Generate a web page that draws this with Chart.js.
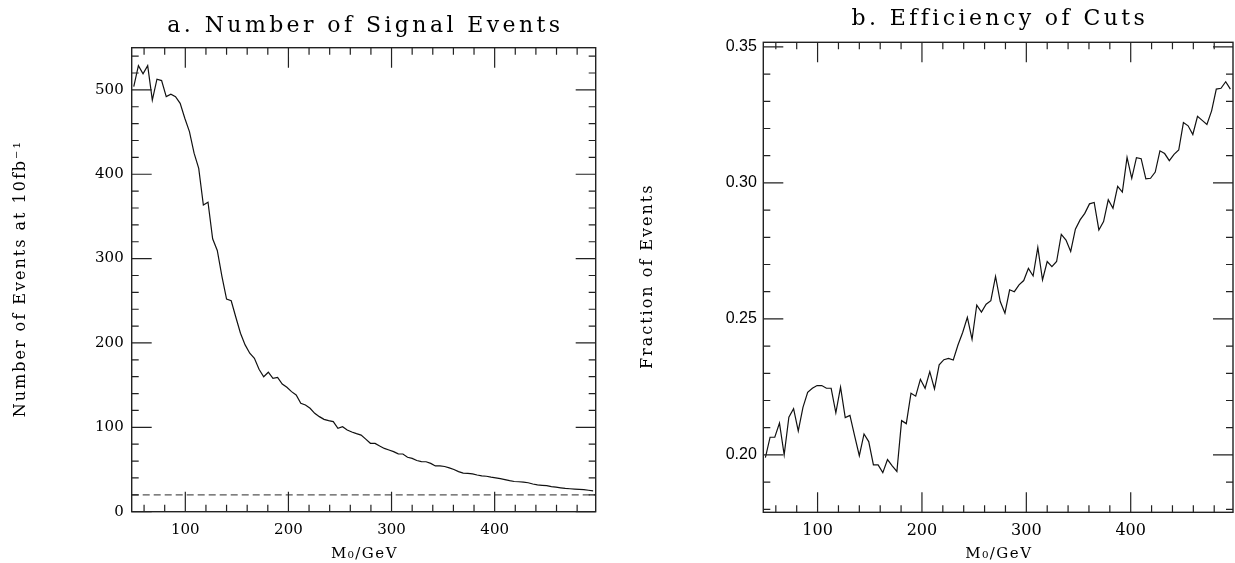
<!DOCTYPE html>
<html>
<head>
<meta charset="utf-8">
<style>
  html, body { margin: 0; padding: 0; background: #fff; }
  #page { position: relative; width: 1235px; height: 563px; overflow: hidden; }
  canvas { position: absolute; top: 0; }
  #signalChart { left: 0; }
  #efficiencyChart { left: 620px; }
</style>
<script src="https://cdn.jsdelivr.net/npm/chart.js@4.4.1/dist/chart.umd.min.js"></script>
</head>
<body>
<div id="page">
  <canvas id="signalChart" width="620" height="563"></canvas>
  <canvas id="efficiencyChart" width="615" height="563"></canvas>
</div>
<script>
// M0 values (GeV) shared by both panels
const massValues = [
  50, 54.5, 59, 63.5, 68, 72.5, 77, 81.5, 86, 90.5,
  95, 99.5, 104, 108.5, 113, 117.5, 122, 126.5, 131, 135.5,
  140, 144.5, 149, 153.5, 158, 162.5, 167, 171.5, 176, 180.5,
  185, 189.5, 194, 198.5, 203, 207.5, 212, 216.5, 221, 225.5,
  230, 234.5, 239, 243.5, 248, 252.5, 257, 261.5, 266, 270.5,
  275, 279.5, 284, 288.5, 293, 297.5, 302, 306.5, 311, 315.5,
  320, 324.5, 329, 333.5, 338, 342.5, 347, 351.5, 356, 360.5,
  365, 369.5, 374, 378.5, 383, 387.5, 392, 396.5, 401, 405.5,
  410, 414.5, 419, 423.5, 428, 432.5, 437, 441.5, 446, 450.5,
  455, 459.5, 464, 468.5, 473, 477.5, 482, 486.5, 491, 495.5
];

// a. number of signal events at 10 fb^-1
const signalEvents = [
  504, 528.8, 519, 528.8, 488, 512.7, 511, 492, 494.8, 492,
  484, 466.4, 450.6, 425, 407, 363.6, 366.8, 323.5, 309.7, 279,
  252, 250, 230.5, 211.5, 197.7, 187.8, 181.8, 168.8, 160, 165.3,
  158.1, 159.3, 151.4, 147.5, 142.3, 138.4, 128.5, 126.5, 122.6, 116.6,
  112.7, 109.5, 108, 106.8, 98.9, 100.8, 96.9, 94.5, 92.5, 90.8,
  86, 81.1, 81, 77.8, 75, 73.2, 71.2, 68.6, 68.4, 64.5,
  63.2, 60.7, 59.4, 59.2, 57.3, 54.2, 54.2, 53.6, 52, 50,
  47.5, 45.8, 45.5, 44.8, 43.5, 42.5, 42, 41, 40.2, 39.2,
  38, 36.8, 35.8, 35.5, 35.1, 34.3, 32.8, 31.7, 31.3, 30.9,
  29.8, 29.1, 28.3, 27.6, 27.2, 26.8, 26.5, 26.2, 25.4, 24.6
];

// dashed reference level
const thresholdMass = [48, 498];
const thresholdEvents = [20, 20];

// b. fraction of events passing the cuts
const cutEfficiency = [
  0.199, 0.2065, 0.2065, 0.2117, 0.200, 0.2139, 0.2170, 0.2088, 0.2175, 0.2230,
  0.2245, 0.2255, 0.2255, 0.2245, 0.2245, 0.2155, 0.2249, 0.2137, 0.2145, 0.207,
  0.1997, 0.2077, 0.2049, 0.1963, 0.1963, 0.1935, 0.1983, 0.196, 0.1939, 0.2126,
  0.2115, 0.2227, 0.2216, 0.2278, 0.2245, 0.2306, 0.2243, 0.2331, 0.2350, 0.2355,
  0.2349, 0.2404, 0.2450, 0.2506, 0.2425, 0.2551, 0.2525, 0.2554, 0.2567, 0.2656,
  0.2564, 0.2521, 0.2607, 0.2600, 0.2625, 0.2641, 0.2686, 0.2658, 0.2763, 0.2643,
  0.2711, 0.2692, 0.2711, 0.2811, 0.2790, 0.2748, 0.2830, 0.2864, 0.2888, 0.2923,
  0.2928, 0.2827, 0.2858, 0.2938, 0.2907, 0.2987, 0.2966, 0.3094, 0.3017, 0.3093,
  0.3089, 0.3015, 0.3017, 0.3040, 0.3118, 0.3108, 0.3082, 0.3105, 0.3121, 0.3222,
  0.3210, 0.3178, 0.3245, 0.3230, 0.3215, 0.3265, 0.3345, 0.3348, 0.3372, 0.3345
];

// tick values
const massMajorTicks = [100, 200, 300, 400];
const massMinorTicks = [60, 80, 120, 140, 160, 180, 220, 240, 260, 280, 320, 340, 360, 380, 420, 440, 460, 480];
const eventsMajorTicks = [0, 100, 200, 300, 400, 500];
const eventsMinorTicks = [20, 40, 60, 80, 120, 140, 160, 180, 220, 240, 260, 280, 320, 340, 360, 380, 420, 440, 460, 480, 520, 540];
const fractionMajorTicks = [0.20, 0.25, 0.30, 0.35];
const fractionMinorTicks = [0.18, 0.19, 0.21, 0.22, 0.23, 0.24, 0.26, 0.27, 0.28, 0.29, 0.31, 0.32, 0.33, 0.34];

const SERIF = "'DejaVu Serif', serif";
const SANS = "'Liberation Sans', Arial, sans-serif";

Chart.defaults.font.family = SERIF;
Chart.defaults.color = "#000";

function toPoints(xs, ys) {
  return xs.map((x, i) => ({ x, y: ys[i] }));
}

// box with inward ticks on all four sides
const frameTicks = {
  id: "frameTicks",
  afterDatasetsDraw(chart, args, opts) {
    const { ctx, chartArea: a, scales: { x, y } } = chart;
    ctx.save();
    ctx.strokeStyle = "#222";
    ctx.lineWidth = 1.4;
    ctx.strokeRect(a.left, a.top, a.width, a.height);

    ctx.beginPath();
    const xTicks = (list, len) => list.forEach(v => {
      const px = x.getPixelForValue(v);
      ctx.moveTo(px, a.bottom);
      ctx.lineTo(px, a.bottom - len);
      ctx.moveTo(px, a.top);
      ctx.lineTo(px, a.top + len);
    });
    const yTicks = (list, len) => list.forEach(v => {
      const py = y.getPixelForValue(v);
      ctx.moveTo(a.left, py);
      ctx.lineTo(a.left + len, py);
      ctx.moveTo(a.right, py);
      ctx.lineTo(a.right - len, py);
    });
    xTicks(opts.xMajor, 20);
    xTicks(opts.xMinor, 7);
    yTicks(opts.yMajor, 20);
    yTicks(opts.yMinor, 7);
    ctx.lineWidth = 1.2;
    ctx.stroke();
    ctx.restore();
  }
};

// titles and axis captions, letter spaced like the original
const panelText = {
  id: "panelText",
  afterDraw(chart, args, opts) {
    const { ctx, chartArea: a } = chart;
    const cx = (a.left + a.right) / 2;
    const cy = (a.top + a.bottom) / 2;
    ctx.save();
    ctx.fillStyle = "#000";
    ctx.textAlign = "center";

    ctx.font = `22px ${SERIF}`;
    ctx.letterSpacing = "3.4px";
    ctx.textBaseline = "alphabetic";
    ctx.fillText(opts.title, cx + 1.7, opts.titleBaseline);

    ctx.font = `15px ${SERIF}`;
    ctx.letterSpacing = "1.5px";
    ctx.fillText("M\u2080/GeV", cx + 0.75, opts.xLabelBaseline);

    ctx.font = `16px ${SERIF}`;
    ctx.letterSpacing = "2px";
    ctx.textBaseline = "middle";
    ctx.translate(opts.yLabelX, cy);
    ctx.rotate(-Math.PI / 2);
    ctx.fillText(opts.yLabel, 1, 0);
    ctx.restore();
  }
};

function buildPanel(canvasId, cfg) {
  return new Chart(document.getElementById(canvasId), {
    type: "line",
    data: { datasets: cfg.datasets },
    options: {
      responsive: false,
      devicePixelRatio: 1,
      animation: false,
      events: [],
      layout: { padding: cfg.padding },
      plugins: {
        legend: { display: false },
        tooltip: { enabled: false },
        frameTicks: cfg.ticks,
        panelText: cfg.text
      },
      scales: {
        x: {
          type: "linear",
          min: 48,
          max: 498,
          grid: { display: false, drawTicks: false },
          border: { display: false },
          afterBuildTicks: s => { s.ticks = massMajorTicks.map(v => ({ value: v })); },
          afterFit: s => { s.height = cfg.xAxisHeight; },
          ticks: {
            autoSkip: false,
            maxRotation: 0,
            padding: cfg.xTickPadding,
            font: { family: SERIF, size: cfg.xTickSize }
          }
        },
        y: {
          type: "linear",
          min: cfg.yMin,
          max: cfg.yMax,
          grid: { display: false, drawTicks: false },
          border: { display: false },
          afterBuildTicks: s => { s.ticks = cfg.yMajor.map(v => ({ value: v })); },
          afterFit: s => { s.width = cfg.yAxisWidth; },
          ticks: {
            autoSkip: false,
            padding: cfg.yTickPadding,
            font: cfg.yTickFont,
            callback: cfg.yFormat
          }
        }
      }
    },
    plugins: [frameTicks, panelText]
  });
}

buildPanel("signalChart", {
  datasets: [
    {
      data: toPoints(massValues, signalEvents),
      borderColor: "#111",
      borderWidth: 1.2,
      pointRadius: 0,
      tension: 0
    },
    {
      data: toPoints(thresholdMass, thresholdEvents),
      borderColor: "#555",
      borderWidth: 1.3,
      borderDash: [7, 4],
      pointRadius: 0
    }
  ],
  padding: { left: 0, right: 24.3, top: 47.7, bottom: 0 },
  xAxisHeight: 51.3,
  yAxisWidth: 131.7,
  xTickPadding: 9.8,
  xTickSize: 15,
  yMin: 0,
  yMax: 550,
  yMajor: eventsMajorTicks,
  yTickPadding: 8,
  yTickFont: { family: SERIF, size: 15 },
  yFormat: v => String(v),
  ticks: { xMajor: massMajorTicks, xMinor: massMinorTicks, yMajor: eventsMajorTicks, yMinor: eventsMinorTicks },
  text: {
    title: "a. Number of Signal Events",
    titleBaseline: 31.7,
    xLabelBaseline: 558,
    yLabel: "Number of Events at 10fb\u207B\u00B9",
    yLabelX: 21
  }
});

buildPanel("efficiencyChart", {
  datasets: [
    {
      data: toPoints(massValues, cutEfficiency),
      borderColor: "#111",
      borderWidth: 1.2,
      pointRadius: 0,
      tension: 0
    }
  ],
  padding: { left: 0, right: 2, top: 42.3, bottom: 0 },
  xAxisHeight: 50.7,
  yAxisWidth: 143.3,
  xTickPadding: 9.1,
  xTickSize: 16,
  yMin: 0.1789,
  yMax: 0.3517,
  yMajor: fractionMajorTicks,
  yTickPadding: 6.5,
  yTickFont: { family: SANS, size: 16 },
  yFormat: v => v.toFixed(2),
  ticks: { xMajor: massMajorTicks, xMinor: massMinorTicks, yMajor: fractionMajorTicks, yMinor: fractionMinorTicks },
  text: {
    title: "b. Efficiency of Cuts",
    titleBaseline: 25,
    xLabelBaseline: 558,
    yLabel: "Fraction of Events",
    yLabelX: 28
  }
});
</script>
</body>
</html>
